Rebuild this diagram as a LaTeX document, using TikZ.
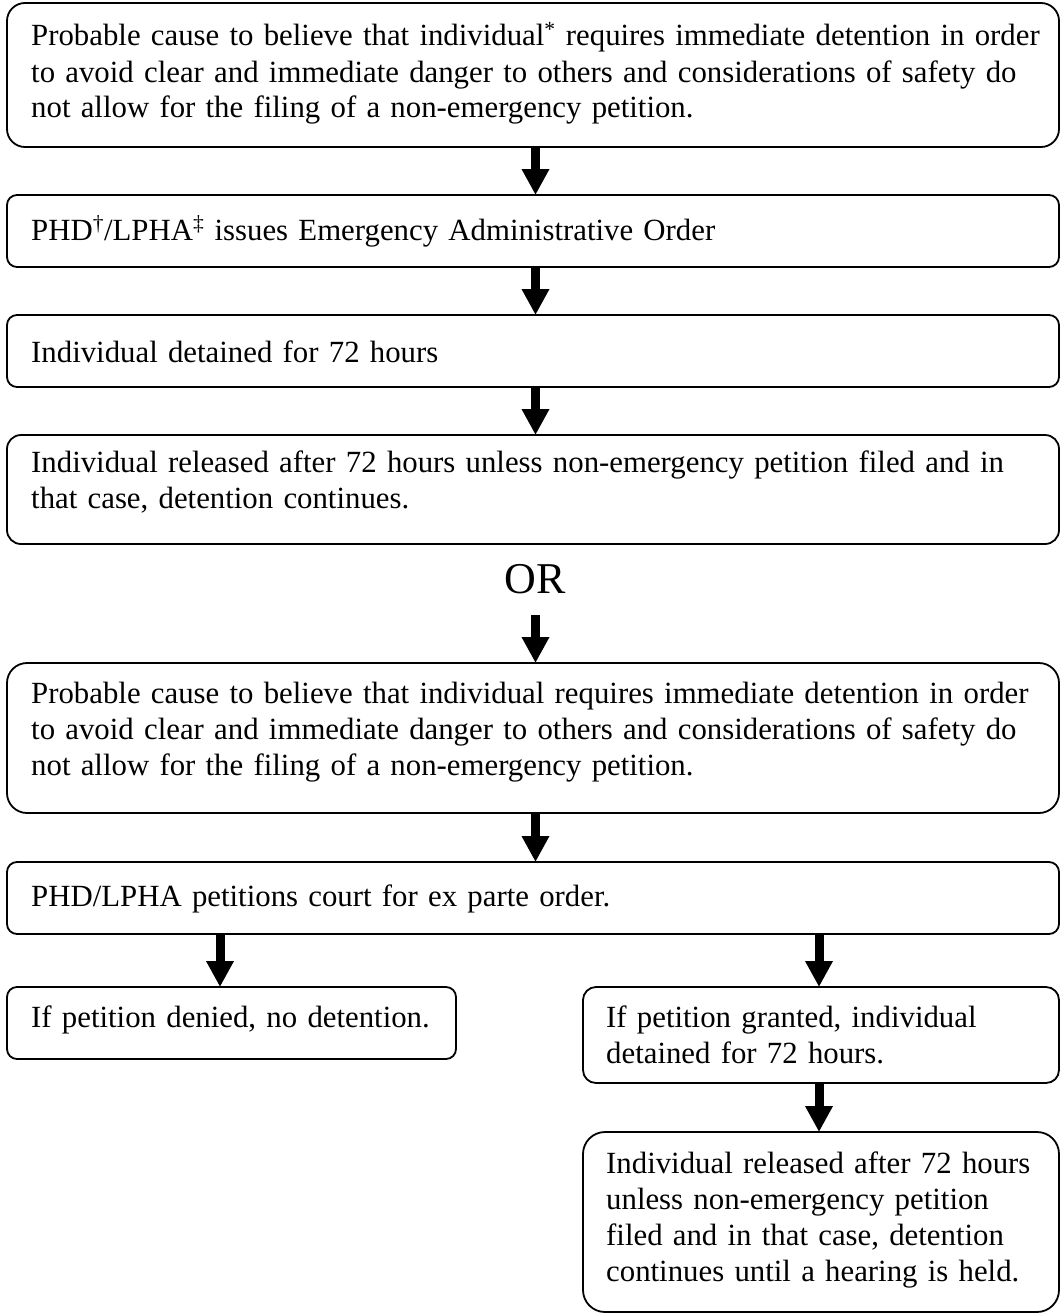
\documentclass[tikz,border=0pt]{standalone}
\usepackage{fontspec}
\setmainfont{Liberation Serif}
\usetikzlibrary{arrows.meta}
\begin{document}
\begin{tikzpicture}[x=1pt,y=-1pt,
  box/.style={draw, line width=1.8pt, rectangle, anchor=north west, inner sep=0pt, outer sep=0pt},
  txt/.style={anchor=base west, inner sep=0pt, align=left, font=\fontsize{30.8}{36}\selectfont},
  arr/.style={line width=9pt, -{Triangle[width=26pt,length=26pt]}}]
\useasboundingbox (0,0) rectangle (1060,1314);
\coordinate (ax) at (535.5,0);
\coordinate (lx) at (220,0);
\coordinate (rx) at (819,0);
% boxes
\node[box, minimum width=1052pt, minimum height=144pt, rounded corners=18pt] (b1) at (7,3) {};
\node[txt, text width=1028pt] (t1) at (31,46) {Probable cause to believe that individual\textsuperscript{*} requires immediate detention in order\\to avoid clear and immediate danger to others and considerations of safety do\\not allow for the filing of a non-emergency petition.};
\node[box, minimum width=1052pt, minimum height=72pt, rounded corners=10pt] (b2) at (7,195) {};
\node[txt, text width=1000pt] (t2) at (31,240) {PHD\textsuperscript{†}/LPHA\textsuperscript{‡} issues Emergency Administrative Order};
\node[box, minimum width=1052pt, minimum height=72pt, rounded corners=10pt] (b3) at (7,315) {};
\node[txt, text width=1000pt] (t3) at (31,362) {Individual detained for 72 hours};
\node[box, minimum width=1052pt, minimum height=109pt, rounded corners=14pt] (b4) at (7,435) {};
\node[txt, text width=1028pt] (t4) at (31,472) {Individual released after 72 hours unless non-emergency petition filed and in\\that case, detention continues.};
\node[anchor=base, inner sep=0pt, font=\fontsize{44}{50}\selectfont] (or) at (535.5,593) {OR};
\coordinate (orstart) at (535.5,615);
\node[box, minimum width=1052pt, minimum height=150pt, rounded corners=20pt] (b5) at (7,663) {};
\node[txt, text width=1028pt] (t5) at (31,703) {Probable cause to believe that individual requires immediate detention in order\\to avoid clear and immediate danger to others and considerations of safety do\\not allow for the filing of a non-emergency petition.};
\node[box, minimum width=1052pt, minimum height=72pt, rounded corners=10pt] (b6) at (7,862) {};
\node[txt, text width=1000pt] (t6) at (31,906) {PHD/LPHA petitions court for ex parte order.};
\node[box, minimum width=449pt, minimum height=72pt, rounded corners=10pt] (b7) at (7,987) {};
\node[txt, text width=425pt] (t7) at (31,1027) {If petition denied, no detention.};
\node[box, minimum width=476pt, minimum height=96pt, rounded corners=13pt] (b8) at (583,987) {};
\node[txt, text width=452pt] (t8) at (606,1027) {If petition granted, individual\\detained for 72 hours.};
\node[box, minimum width=476pt, minimum height=180pt, rounded corners=22pt] (b9) at (583,1132) {};
\node[txt, text width=452pt] (t9) at (606,1173) {Individual released after 72 hours\\unless non-emergency petition\\filed and in that case, detention\\continues until a hearing is held.};
% arrows
\draw[arr] (b1.south -| ax) -- (b2.north -| ax);
\draw[arr] (b2.south -| ax) -- (b3.north -| ax);
\draw[arr] (b3.south -| ax) -- (b4.north -| ax);
\draw[arr] (orstart) -- (b5.north -| ax);
\draw[arr] (b5.south -| ax) -- (b6.north -| ax);
\draw[arr] (b6.south -| lx) -- (b7.north -| lx);
\draw[arr] (b6.south -| rx) -- (b8.north -| rx);
\draw[arr] (b8.south -| rx) -- (b9.north -| rx);
\end{tikzpicture}
\end{document}
